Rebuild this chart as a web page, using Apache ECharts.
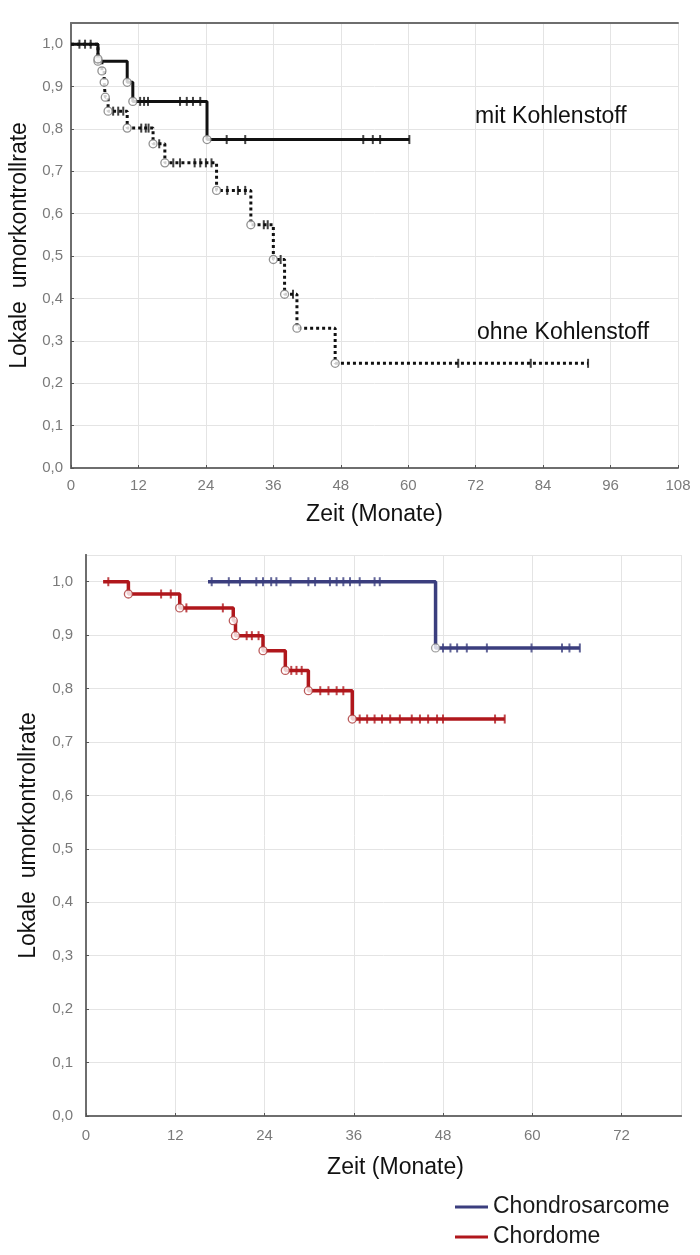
<!DOCTYPE html>
<html>
<head>
<meta charset="utf-8">
<script src="https://cdn.jsdelivr.net/npm/echarts@6/dist/echarts.min.js"></script>
<style>
html, body { margin: 0; padding: 0; background: #fff; }
#main { width: 700px; height: 1255px; }
</style>
</head>
<body>
<div id="main"></div>
<script>
// oben: mit / ohne Kohlenstoff (Zeit in Monaten, Rate nach dem Ereignis)
var mitZeit = [0, 4.8, 10, 11, 24.2, 60.2];
var mitRate = [1.0, 0.96, 0.91, 0.865, 0.775, 0.775];
var mitZensiert = [1.5, 2.5, 12.3, 13.0, 13.7, 19.4, 20.6, 21.7, 23.0, 27.7, 31.0, 52.0, 53.7, 55.0, 60.2];

var ohneZeit = [0, 4.8, 5.5, 5.9, 6.1, 6.6, 10, 14.6, 16.7, 25.9, 32, 36, 38, 40.2, 47, 92];
var ohneRate = [1.0, 0.965, 0.937, 0.91, 0.875, 0.842, 0.802, 0.765, 0.72, 0.655, 0.574, 0.492, 0.41, 0.33, 0.247, 0.247];
var ohneZensiert = [3.5, 7.5, 8.4, 9.3, 12.5, 13.3, 13.8, 15.7, 18.2, 19.4, 22.0, 23.0, 24.0, 25.0,
    27.8, 29.7, 31.0, 34.3, 35.0, 37.3, 39.5, 68.9, 81.8, 92];

// unten: Chondrosarcome / Chordome
var chonZeit = [16.4, 47, 66.4];
var chonRate = [1.0, 0.876, 0.876];
var chonZensiert = [16.9, 19.2, 20.7, 22.9, 23.8, 24.9, 25.6, 27.5, 29.9, 30.8, 32.8, 33.7, 34.6, 35.5,
    36.8, 38.8, 39.5, 48, 49, 49.9, 51.2, 53.9, 59.9, 64, 65, 66.4];

var chorZeit = [2.3, 5.7, 12.6, 19.8, 20.1, 23.8, 26.8, 29.9, 35.8, 56.3];
var chorRate = [1.0, 0.977, 0.951, 0.927, 0.899, 0.871, 0.834, 0.796, 0.743, 0.743];
var chorZensiert = [3.0, 10.1, 11.4, 13.5, 18.4, 21.6, 22.3, 23.2, 27.6, 28.3, 29.0, 31.5, 32.6, 33.7, 34.6,
    36.8, 37.8, 38.8, 39.8, 40.9, 42.2, 43.8, 44.9, 46, 47.2, 48, 55, 56.3];

var FONT = 'Liberation Sans, Arial, sans-serif';

function punkte(zeit, rate) {
    return zeit.map(function (t, i) { return [t, rate[i]]; });
}
// Ereignisse = Stufen (ohne Start und Ende)
function ereignisse(zeit, rate) {
    return punkte(zeit, rate).slice(1, -1);
}
// Rate der Kurve zum Zeitpunkt t
function stufe(zeit, rate, t) {
    var v = rate[0];
    for (var i = 0; i < zeit.length; i++) {
        if (zeit[i] <= t) v = rate[i];
    }
    return v;
}
function zensiert(zeit, rate, liste) {
    return liste.map(function (t) { return [t, stufe(zeit, rate, t)]; });
}

function kurve(name, idx, zeit, rate, farbe, typ, breite) {
    return {
        name: name, type: 'line', step: 'end',
        xAxisIndex: idx, yAxisIndex: idx,
        symbol: 'none', z: 3,
        lineStyle: { color: farbe, width: breite || 3, type: typ || 'solid', cap: 'butt' },
        itemStyle: { color: farbe },
        data: punkte(zeit, rate)
    };
}
function striche(idx, daten, farbe) {
    return {
        type: 'scatter', xAxisIndex: idx, yAxisIndex: idx,
        symbol: 'rect', symbolSize: [2, 9], z: 4,
        itemStyle: { color: farbe },
        data: daten
    };
}
function kreise(idx, daten, rand) {
    return {
        type: 'scatter', xAxisIndex: idx, yAxisIndex: idx,
        symbol: 'circle', symbolSize: 8, z: 5,
        itemStyle: { color: '#fff', borderColor: rand, borderWidth: 1.3 },
        data: daten
    };
}

function yLabel(v) {
    return v.toFixed(1).replace('.', ',');
}

var achsenLinie = { show: true, lineStyle: { color: '#6e6e6e', width: 2 } };
var gitter = { show: true, lineStyle: { color: '#e4e4e4', width: 1 } };
var tickLabel = { color: '#7a7a7a', fontSize: 15, fontFamily: FONT };
var titel = { fontSize: 23, color: '#111', fontFamily: FONT };

var myChart = echarts.init(document.getElementById('main'));
var option = {
    animation: false,
    backgroundColor: '#fff',
    grid: [
        { left: 71, top: 23, width: 607, height: 445 },
        { left: 86, top: 555, width: 595, height: 561 }
    ],
    xAxis: [
        {
            gridIndex: 0, type: 'value', min: 0, max: 108, interval: 12,
            name: 'Zeit (Monate)', nameLocation: 'middle', nameGap: 35,
            nameTextStyle: titel,
            axisLine: achsenLinie,
            axisTick: { show: true, inside: true, length: 3, lineStyle: { color: '#555' } },
            axisLabel: Object.assign({ margin: 10 }, tickLabel),
            splitLine: gitter
        },
        {
            gridIndex: 1, type: 'value', min: 0, max: 80, interval: 12,
            name: 'Zeit (Monate)', nameLocation: 'middle', nameGap: 40,
            nameTextStyle: Object.assign({ padding: [0, 0, 0, 24] }, titel),
            axisLine: achsenLinie,
            axisTick: { show: true, inside: true, length: 3, lineStyle: { color: '#555' } },
            axisLabel: Object.assign({ margin: 12, showMaxLabel: false }, tickLabel),
            splitLine: gitter
        },
        {
            gridIndex: 0, type: 'value', min: 0, max: 108, position: 'top',
            axisLine: achsenLinie, axisTick: { show: false }, axisLabel: { show: false }, splitLine: { show: false }
        },
        {
            gridIndex: 1, type: 'value', min: 0, max: 80, position: 'top',
            axisLine: achsenLinie, axisTick: { show: false }, axisLabel: { show: false }, splitLine: { show: false }
        }
    ],
    yAxis: [
        {
            gridIndex: 0, type: 'value', min: 0, max: 1.05, interval: 0.1,
            name: 'Lokale  umorkontrollrate', nameLocation: 'middle', nameGap: 37, nameRotate: 90,
            nameTextStyle: titel,
            axisLine: achsenLinie,
            axisTick: { show: true, inside: true, length: 3, lineStyle: { color: '#555' } },
            axisLabel: Object.assign({ margin: 8, showMaxLabel: false, formatter: yLabel }, tickLabel),
            splitLine: gitter
        },
        {
            gridIndex: 1, type: 'value', min: 0, max: 1.05, interval: 0.1,
            name: 'Lokale  umorkontrollrate', nameLocation: 'middle', nameGap: 46, nameRotate: 90,
            nameTextStyle: titel,
            axisLine: achsenLinie,
            axisTick: { show: true, inside: true, length: 3, lineStyle: { color: '#555' } },
            axisLabel: Object.assign({ margin: 13, showMaxLabel: false, formatter: yLabel }, tickLabel),
            splitLine: gitter
        },
        {
            gridIndex: 1, type: 'value', min: 0, max: 1.05, position: 'right',
            axisLine: achsenLinie, axisTick: { show: false }, axisLabel: { show: false }, splitLine: { show: false }
        }
    ],
    legend: {
        data: ['Chondrosarcome', 'Chordome'],
        orient: 'vertical', left: 455, top: 1195, height: 58, padding: 0,
        icon: 'rect', itemWidth: 33, itemHeight: 3, itemGap: 6,
        textStyle: { fontSize: 23, lineHeight: 24, color: '#1a1a1a', fontFamily: FONT }
    },
    graphic: [
        { type: 'text', z: 100, left: 475, top: 105, style: { text: 'mit Kohlenstoff', fontSize: 23, fill: '#111', fontFamily: FONT } },
        { type: 'text', z: 100, left: 477, top: 321, style: { text: 'ohne Kohlenstoff', fontSize: 23, fill: '#111', fontFamily: FONT } }
    ],
    series: [
        kurve('ohne Kohlenstoff', 0, ohneZeit, ohneRate, '#111', [3, 3]),
        kurve('mit Kohlenstoff', 0, mitZeit, mitRate, '#111'),
        striche(0, zensiert(ohneZeit, ohneRate, ohneZensiert), '#111'),
        striche(0, zensiert(mitZeit, mitRate, mitZensiert), '#111'),
        kreise(0, ereignisse(mitZeit, mitRate), '#777'),
        kreise(0, ereignisse(ohneZeit, ohneRate), '#777'),

        kurve('Chondrosarcome', 1, chonZeit, chonRate, '#3b3e7e', null, 3.5),
        kurve('Chordome', 1, chorZeit, chorRate, '#b0171c', null, 3.5),
        striche(1, zensiert(chonZeit, chonRate, chonZensiert), '#3b3e7e'),
        striche(1, zensiert(chorZeit, chorRate, chorZensiert), '#b0171c'),
        kreise(1, ereignisse(chonZeit, chonRate), '#888'),
        kreise(1, ereignisse(chorZeit, chorRate), '#a33')
    ]
};
myChart.setOption(option);
</script>
</body>
</html>
